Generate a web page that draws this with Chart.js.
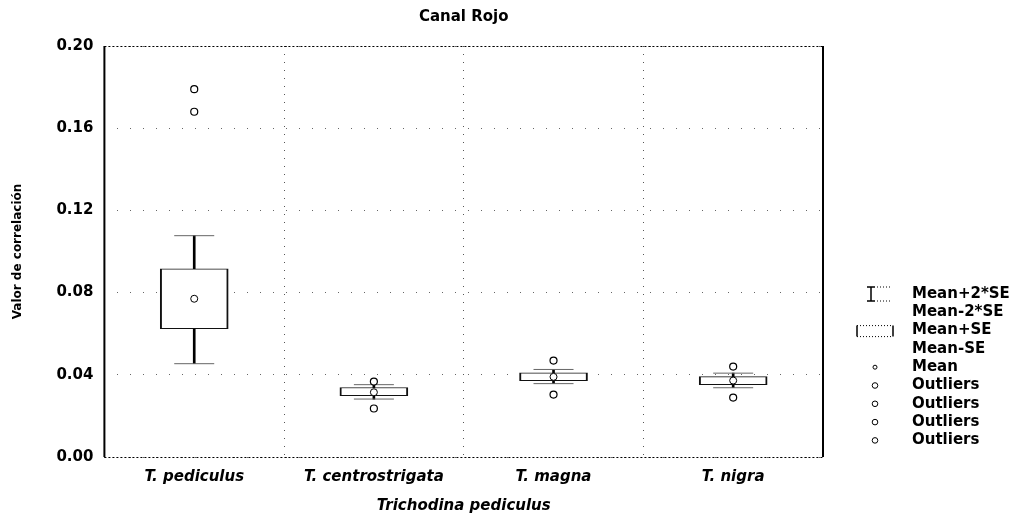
<!DOCTYPE html>
<html>
<head>
<meta charset="utf-8">
<title>Canal Rojo</title>
<script src="https://cdn.jsdelivr.net/npm/chart.js@4.4.0/dist/chart.umd.min.js"></script>
<style>
  html, body { margin: 0; padding: 0; background: #fff; }
  #wrap { width: 1029px; height: 519px; }
</style>
</head>
<body>
<div id="wrap"><canvas id="grafico"></canvas></div>
<script>
// ➤ Datos
const categorias = ["T. pediculus", "T. centrostrigata", "T. magna", "T. nigra"];
const media = [0.077, 0.0315, 0.039, 0.0372];
const mediaMasSE = [0.0916, 0.0338, 0.041, 0.0391];
const mediaMenosSE = [0.0625, 0.0299, 0.0372, 0.0352];
const mediaMas2SE = [0.1077, 0.0352, 0.0426, 0.0408];
const mediaMenos2SE = [0.0454, 0.0282, 0.0357, 0.0337];
const outliersA = [0.179, 0.0367, 0.0469, 0.044];
const outliersB = [0.168, 0.0236, 0.0304, 0.0289];
const yTicks = [0, 0.04, 0.08, 0.12, 0.16, 0.20];
const leyenda = ["Mean+2*SE", "Mean-2*SE", "Mean+SE", "Mean-SE", "Mean", "Outliers", "Outliers", "Outliers", "Outliers"];
const iconos = ["whisker", "", "box", "", "mean", "out", "out", "out", "out"];

const FONT = '"DejaVu Sans", "Liberation Sans", Arial, sans-serif';

// ➤ Marco: izquierda y derecha sólidas, arriba y abajo punteadas
const marco = {
    id: "marco",
    beforeDatasetsDraw(chart) {
        const { ctx, chartArea: a } = chart;
        ctx.save();
        ctx.strokeStyle = "#000";
        ctx.lineWidth = 2;
        ctx.beginPath();
        ctx.moveTo(a.left, a.top); ctx.lineTo(a.left, a.bottom);
        ctx.moveTo(a.right, a.top); ctx.lineTo(a.right, a.bottom);
        ctx.stroke();
        ctx.lineWidth = 1;
        ctx.setLineDash([2, 2]);
        ctx.beginPath();
        ctx.moveTo(a.left, a.top + 0.5); ctx.lineTo(a.right, a.top + 0.5);
        ctx.moveTo(a.left, a.bottom + 0.5); ctx.lineTo(a.right, a.bottom + 0.5);
        ctx.stroke();
        ctx.restore();
    }
};

// ➤ Leyenda a la derecha, con los símbolos del box plot
const leyendaPlugin = {
    id: "leyendaBox",
    afterDraw(chart) {
        const { ctx, chartArea: a } = chart;
        const xi = a.right + 50;
        const xt = a.right + 89;
        const paso = 18.3;
        const y0 = a.bottom - 163;
        ctx.save();
        ctx.fillStyle = "#000";
        ctx.strokeStyle = "#000";
        ctx.font = "bold 15px " + FONT;
        ctx.textBaseline = "middle";
        leyenda.forEach((txt, i) => {
            const y = y0 + i * paso;
            ctx.fillText(txt, xt, y);
            const tipo = iconos[i];
            ctx.lineWidth = 1;
            ctx.setLineDash([]);
            if (tipo === "whisker") {
                ctx.lineWidth = 1.5;
                ctx.beginPath();
                ctx.moveTo(xi - 6, y - 7); ctx.lineTo(xi + 2, y - 7);
                ctx.moveTo(xi - 2, y - 7); ctx.lineTo(xi - 2, y + 7);
                ctx.moveTo(xi - 6, y + 7); ctx.lineTo(xi + 2, y + 7);
                ctx.stroke();
                ctx.lineWidth = 1;
                ctx.setLineDash([1, 2]);
                ctx.beginPath();
                ctx.moveTo(xi + 4, y - 7); ctx.lineTo(xi + 18, y - 7);
                ctx.moveTo(xi + 4, y + 7); ctx.lineTo(xi + 18, y + 7);
                ctx.stroke();
            } else if (tipo === "box") {
                ctx.lineWidth = 1.5;
                ctx.beginPath();
                ctx.moveTo(xi - 16, y - 5); ctx.lineTo(xi - 16, y + 6);
                ctx.moveTo(xi + 20, y - 5); ctx.lineTo(xi + 20, y + 6);
                ctx.stroke();
                ctx.lineWidth = 1;
                ctx.setLineDash([1, 2]);
                ctx.beginPath();
                ctx.moveTo(xi - 16, y - 5); ctx.lineTo(xi + 20, y - 5);
                ctx.moveTo(xi - 16, y + 6); ctx.lineTo(xi + 20, y + 6);
                ctx.stroke();
            } else if (tipo === "mean") {
                ctx.beginPath();
                ctx.arc(xi + 2, y, 2, 0, Math.PI * 2);
                ctx.stroke();
            } else if (tipo === "out") {
                ctx.beginPath();
                ctx.arc(xi + 2, y, 2.8, 0, Math.PI * 2);
                ctx.stroke();
            }
        });
        ctx.restore();
    }
};

const ctx = document.getElementById("grafico").getContext("2d");

new Chart(ctx, {
    type: "bar",
    data: {
        labels: categorias,
        datasets: [
            {
                label: "Mean±2*SE",
                data: categorias.map((c, i) => [mediaMenos2SE[i], mediaMas2SE[i]]),
                backgroundColor: "#000",
                barThickness: 2,
                grouped: false,
                order: 5
            },
            {
                label: "Mean±SE",
                data: categorias.map((c, i) => [mediaMenosSE[i], mediaMasSE[i]]),
                backgroundColor: "#fff",
                borderColor: "#111",
                borderWidth: { left: 2, right: 2, top: 1, bottom: 1 },
                borderSkipped: false,
                barThickness: 68,
                grouped: false,
                order: 4
            },
            {
                type: "line",
                label: "Mean+2*SE",
                data: mediaMas2SE,
                showLine: false,
                pointStyle: "line",
                pointRadius: 20,
                pointBorderColor: "#666",
                pointBorderWidth: 1,
                order: 3
            },
            {
                type: "line",
                label: "Mean-2*SE",
                data: mediaMenos2SE,
                showLine: false,
                pointStyle: "line",
                pointRadius: 20,
                pointBorderColor: "#666",
                pointBorderWidth: 1,
                order: 3
            },
            {
                type: "line",
                label: "Mean",
                data: media,
                showLine: false,
                pointStyle: "circle",
                pointRadius: 3.5,
                pointBackgroundColor: "#fff",
                pointBorderColor: "#000",
                pointBorderWidth: 1,
                order: 1
            },
            {
                type: "line",
                label: "Outliers",
                data: outliersA,
                showLine: false,
                pointStyle: "circle",
                pointRadius: 3.5,
                pointBackgroundColor: "#fff",
                pointBorderColor: "#000",
                pointBorderWidth: 1.2,
                order: 1
            },
            {
                type: "line",
                label: "Outliers",
                data: outliersB,
                showLine: false,
                pointStyle: "circle",
                pointRadius: 3.5,
                pointBackgroundColor: "#fff",
                pointBorderColor: "#000",
                pointBorderWidth: 1.2,
                order: 1
            }
        ]
    },
    options: {
        responsive: true,
        maintainAspectRatio: false,
        animation: false,
        layout: { padding: { left: 7, right: 206, top: 0, bottom: 4 } },
        plugins: {
            legend: { display: false },
            tooltip: { enabled: false },
            title: {
                display: true,
                text: "Canal Rojo",
                fullSize: false,
                color: "#000",
                font: { family: FONT, size: 15, weight: "bold" },
                padding: { top: 8, bottom: 20 }
            }
        },
        scales: {
            x: {
                offset: true,
                grid: { offset: true, color: "#555", lineWidth: 1, drawTicks: false },
                border: { display: false, dash: [1, 7] },
                ticks: {
                    color: "#000",
                    padding: 11,
                    font: { family: FONT, size: 15, style: "italic", weight: "bold" }
                },
                title: {
                    display: true,
                    text: "Trichodina pediculus",
                    color: "#000",
                    font: { family: FONT, size: 15, style: "italic", weight: "bold" },
                    padding: { top: 0, bottom: 0 }
                }
            },
            y: {
                min: 0,
                max: 0.2,
                afterBuildTicks: axis => { axis.ticks = yTicks.map(v => ({ value: v })); },
                grid: { color: "#666", lineWidth: 1, drawTicks: false },
                border: { display: false, dash: [1, 12] },
                ticks: {
                    color: "#000",
                    padding: 11,
                    font: { family: FONT, size: 15, weight: "bold" },
                    callback: v => Number(v).toFixed(2)
                },
                title: {
                    display: true,
                    text: "Valor de correlación",
                    color: "#000",
                    font: { family: FONT, size: 12, weight: "bold" },
                    padding: { top: 4, bottom: 20 }
                }
            }
        }
    },
    plugins: [marco, leyendaPlugin]
});
</script>
</body>
</html>
